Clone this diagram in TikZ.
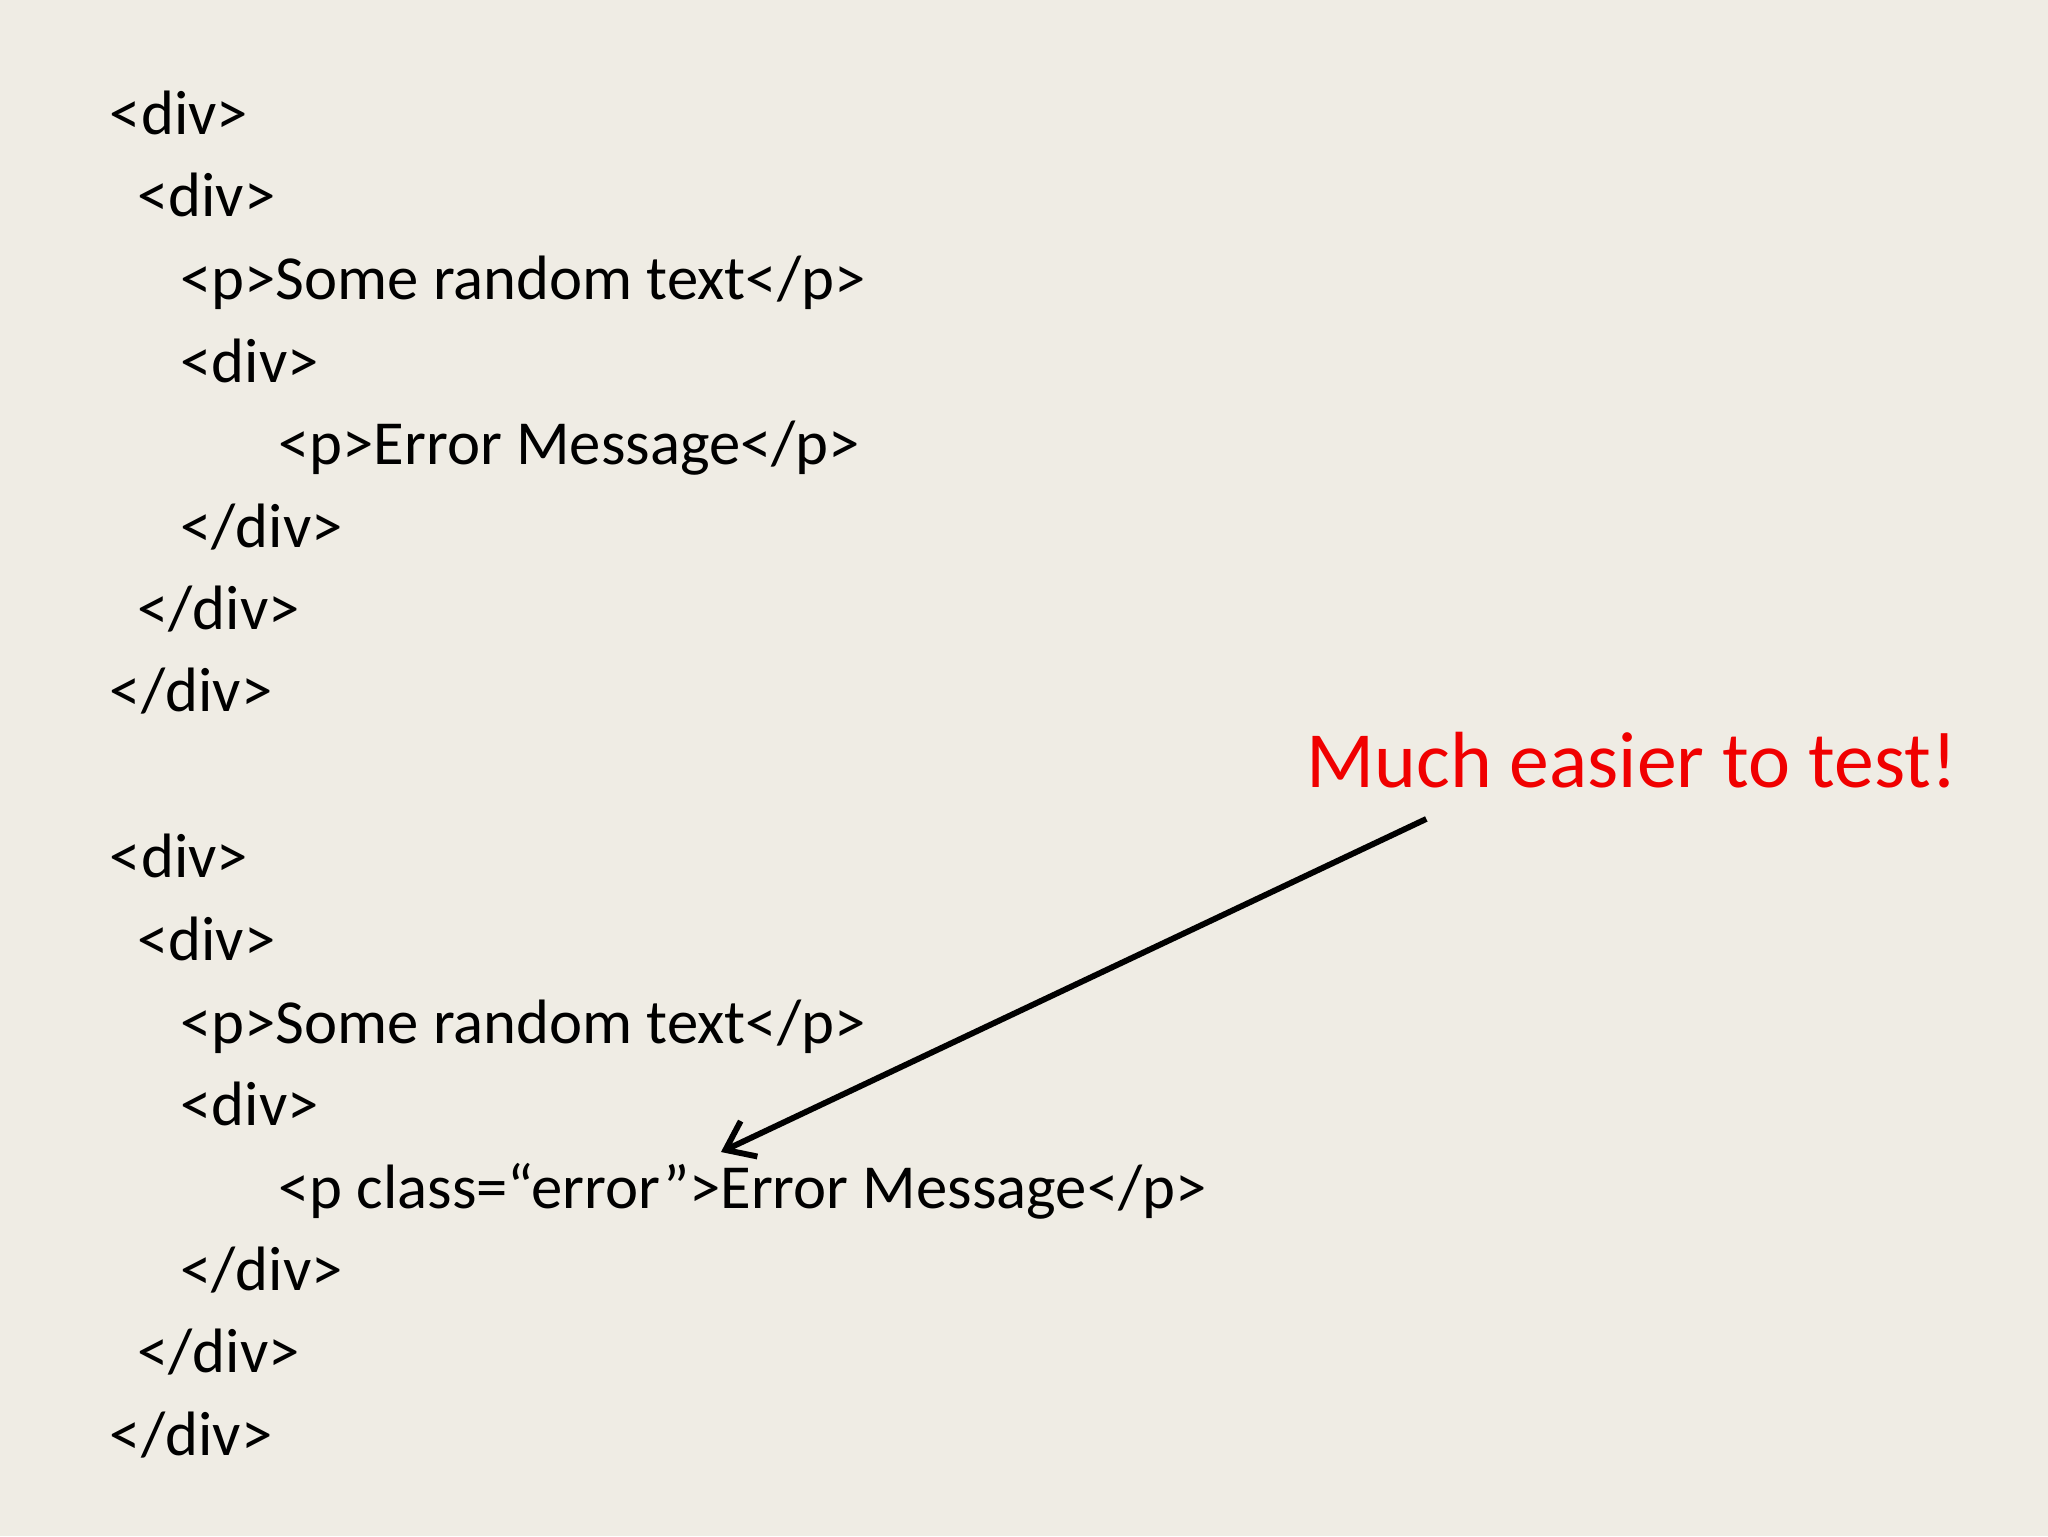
\documentclass[tikz,border=0pt]{standalone}
\usepackage{fontspec}
\setmainfont{Carlito}
\usetikzlibrary{arrows.meta}
\definecolor{bg}{RGB}{239,236,228}
\definecolor{redtxt}{RGB}{240,0,0}
\tikzset{code/.style={anchor=base west,inner sep=0pt,font=\fontsize{48}{50}\selectfont},
  note/.style={anchor=base west,inner sep=0pt,text=redtxt,font=\fontsize{61}{64}\selectfont},
  pointer/.style={line width=4.5pt,-{Straight Barb[length=20pt,width=30pt,line width=4.5pt]}}}
\begin{document}
\begin{tikzpicture}[x=1pt,y=-1pt]
\fill[bg] (0,0) rectangle (1568,1176);
\useasboundingbox (0,0) rectangle (1568,1176);
\node[code] (a1) at (84,103) {<div>};
\node[code] (a2) at (105,166) {<div>};
\node[code] (a3) at (138,229) {<p>Some random text</p>};
\node[code] (a4) at (138,293) {<div>};
\node[code] (a5) at (213,356) {<p>Error Message</p>};
\node[code] (a6) at (138,419) {</div>};
\node[code] (a7) at (105,482) {</div>};
\node[code] (a8) at (84,545) {</div>};
\node[code] (b1) at (84,672) {<div>};
\node[code] (b2) at (105,735) {<div>};
\node[code] (b3) at (138,799) {<p>Some random text</p>};
\node[code] (b4) at (138,862) {<div>};
\node[code] (b5) at (213,925) {<p class=“error”>Error Message</p>};
\node[code] (b6) at (138,988) {</div>};
\node[code] (b7) at (105,1051) {</div>};
\node[code] (b8) at (84,1114) {</div>};
\node[note] (n) at (1000,603) {Much easier to test!};
\coordinate (s) at (1092,627);
\coordinate (t) at (552,882);
\draw[pointer] (s) -- (t);
\end{tikzpicture}
\end{document}
